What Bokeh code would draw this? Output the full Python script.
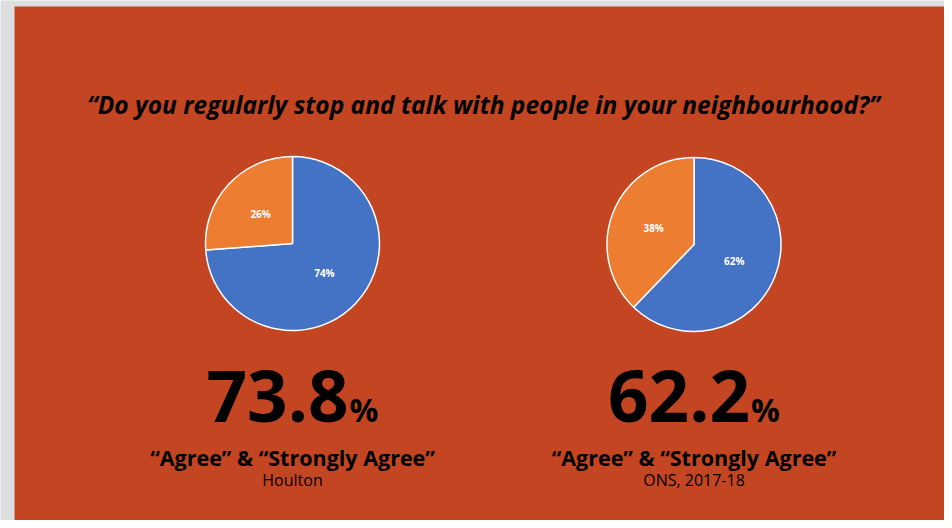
import math
from bokeh.plotting import figure
from bokeh.models import Range1d
from bokeh.core.properties import value
from bokeh.embed import file_html
from bokeh.resources import INLINE

# ---- data ----
question = "\u201cDo you regularly stop and talk with people in your neighbourhood?\u201d"
sources = ["Houlton", "ONS, 2017-18"]
agree_pct = [73.8, 62.2]
other_pct = [26.2, 37.8]
agree_labels = ["74%", "62%"]
other_labels = ["26%", "38%"]
headline = ["73.8", "62.2"]
caption = "\u201cAgree\u201d & \u201cStrongly Agree\u201d"

# ---- layout ----
W, H = 944, 520
FONT = "Open Sans"
BG = "#C44521"
BLUE = "#4472C4"
ORANGE = "#ED7D31"
centers = [(292, 277), (693.5, 276)]
R = 87

p = figure(width=W, height=H, x_range=Range1d(0, W), y_range=Range1d(0, H),
           output_backend="svg", toolbar_location=None, min_border=0)
p.axis.visible = False
p.grid.visible = False
p.outline_line_color = None
p.background_fill_color = "#dcdedf"
p.border_fill_color = "#dcdedf"

p.quad(left=14, right=960, bottom=-10, top=514, fill_color=BG, line_color=None)

p.text(x=[483], y=[416], text=[question], text_font=value(FONT),
       text_font_size="24.5px", text_font_style="bold italic", text_color="black",
       text_align="center", text_baseline="middle")

for i, (cx, cy) in enumerate(centers):
    frac_o = other_pct[i] / (agree_pct[i] + other_pct[i])
    a0 = math.pi / 2
    a1 = a0 + 2 * math.pi * frac_o
    a2 = a0 + 2 * math.pi
    p.wedge(x=[cx], y=[cy], radius=R, start_angle=[a1], end_angle=[a2],
            direction="anticlock", fill_color=BLUE, line_color="white", line_width=1.5)
    p.wedge(x=[cx], y=[cy], radius=R, start_angle=[a0], end_angle=[a1],
            direction="anticlock", fill_color=ORANGE, line_color="white", line_width=1.5)
    for lab, m in ((other_labels[i], (a0 + a1) / 2), (agree_labels[i], (a1 + a2) / 2)):
        p.text(x=[cx + 0.5 * R * math.cos(m)], y=[cy + 0.5 * R * math.sin(m)], text=[lab],
               text_font=value(FONT), text_font_size="10px", text_font_style="bold",
               text_color="white", text_align="center", text_baseline="middle")

    p.text(x=[cx + 56], y=[125], text=[headline[i]], text_font=value(FONT),
           text_font_size="71px", text_font_style="bold", text_color="black",
           text_align="right", text_baseline="alphabetic")
    p.text(x=[cx + 57], y=[111], text=["%"], text_font=value(FONT),
           text_font_size="32px", text_font_style="bold", text_color="black",
           text_align="left", text_baseline="alphabetic")
    p.text(x=[cx], y=[63], text=[caption], text_font=value(FONT),
           text_font_size="21.5px", text_font_style="bold", text_color="black",
           text_align="center", text_baseline="middle")
    p.text(x=[cx], y=[41], text=[sources[i]], text_font=value(FONT),
           text_font_size="16px", text_color="black",
           text_align="center", text_baseline="middle")

open("out.html", "w").write(file_html(p, INLINE))
